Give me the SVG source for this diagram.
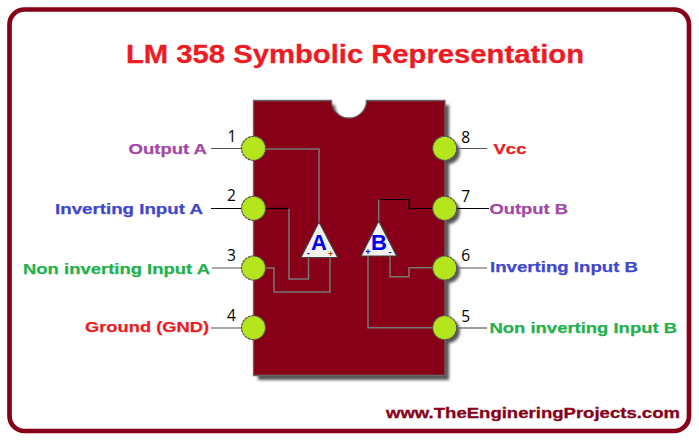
<svg xmlns="http://www.w3.org/2000/svg" width="699" height="441" viewBox="0 0 699 441">
<style>
text{font-family:"Liberation Sans",Arial,sans-serif;font-weight:bold}
.lab{font-size:15px;stroke-width:.25px}
.r{fill:#ed1c24;stroke:#ed1c24}.p{fill:#a349a4;stroke:#a349a4}.b{fill:#3f48cc;stroke:#3f48cc}.g{fill:#22b14c;stroke:#22b14c}
.n{font-weight:normal;font-size:15.500px;fill:#000;font-family:"Open Sans","Liberation Sans",sans-serif}
.w{fill:none;stroke:#777;stroke-width:1.5}
.k{fill:none;stroke:#000;stroke-width:1.2}
.lead{fill:none;stroke:#555;stroke-width:1.2}
.pin{fill:#b5e61d;stroke:#555;stroke-width:1.2;stroke-dasharray:3 .6}
.tri{fill:#f2f2f2;stroke:#444;stroke-width:1.2}
.big{font-size:22px;fill:#0000ee}
.sg{font-size:9px;font-weight:bold}
.shadow{fill:#555}
</style>
<defs>
<filter id="s" x="-20%" y="-20%" width="140%" height="140%"><feGaussianBlur stdDeviation="1.6"/></filter>
</defs>
<rect x="9.500" y="9.500" width="679.500" height="421.500" rx="15" fill="#fff" stroke="#870017" stroke-width="4.700"/>
<text x="126" y="62.500" font-size="25.500" fill="#ed1c24" stroke="#ed1c24" stroke-width=".3" textLength="458" lengthAdjust="spacingAndGlyphs">LM 358 Symbolic Representation</text>
<g id="chip">
<path class="shadow" d="M258 105H335A18 18 0 0 0 371 105H449V380H258Z" filter="url(#s)"/>
<circle class="shadow" cx="448" cy="152" r="12" filter="url(#s)"/>
<circle class="shadow" cx="448" cy="212" r="12" filter="url(#s)"/>
<circle class="shadow" cx="448" cy="271" r="12" filter="url(#s)"/>
<circle class="shadow" cx="448" cy="331" r="12" filter="url(#s)"/>
<path d="M253.500 100.500H331.500A17.500 17.500 0 0 0 366.500 100.500H445V375.500H253.500Z" fill="#870017" stroke="#666" stroke-width="1.300"/>
</g>
<g id="connectors">
<path class="lead" d="M211 148.500H242M211 328H242M212 268H242M455 148.500H487M455 268H487"/>
<path class="k" d="M211 208.500H242M455 208.500H489"/>
<path class="w" d="M455 328H487"/>
<path class="w" d="M265 149H319V222"/>
<path class="k" d="M265 208.500H289"/>
<path class="w" d="M289 208.500V279H308.500V257"/>
<path class="w" d="M265 268H274V292H330V257"/>
<path class="k" d="M379 199.500H409V208.500H433"/>
<path class="w" d="M378.700 199.500V222"/>
<path class="w" d="M390 255V276.700H409V267.700H433"/>
<path class="w" d="M368 255V327.700H433" stroke-width="1.700"/>
</g>
<g id="op-a"><path class="tri" d="M319 222L337.700 257.500H301Z"/><text class="big" x="319" y="250" text-anchor="middle">A</text><text class="sg" x="308.300" y="255.500" text-anchor="middle" fill="#0000ee">-</text><text class="sg" x="330.700" y="256.500" text-anchor="middle" fill="#b5460f">+</text></g>
<g id="op-b"><path class="tri" d="M378.700 221L396.700 256H361Z"/><text class="big" x="379" y="250" text-anchor="middle">B</text><text class="sg" x="368" y="255" text-anchor="middle" fill="#0000ee">+</text><text class="sg" x="390" y="254.500" text-anchor="middle" fill="#0000ee">-</text></g>
<g id="pin1"><circle class="pin" cx="253.500" cy="148.300" r="12"/><text class="n" x="232" y="142.300" text-anchor="middle">1</text></g>
<g id="pin2"><circle class="pin" cx="253.500" cy="208.300" r="12"/><text class="n" x="231.500" y="201" text-anchor="middle">2</text></g>
<g id="pin3"><circle class="pin" cx="253.500" cy="268" r="12"/><text class="n" x="231.500" y="261" text-anchor="middle">3</text></g>
<g id="pin4"><circle class="pin" cx="253.500" cy="327.700" r="12"/><text class="n" x="231.500" y="321" text-anchor="middle">4</text></g>
<g id="pin8"><circle class="pin" cx="444.700" cy="148.300" r="12"/><text class="n" x="465.700" y="143" text-anchor="middle">8</text></g>
<g id="pin7"><circle class="pin" cx="444.700" cy="208.300" r="12"/><text class="n" x="465.700" y="201.500" text-anchor="middle">7</text></g>
<g id="pin6"><circle class="pin" cx="444.700" cy="268" r="12"/><text class="n" x="465.700" y="261" text-anchor="middle">6</text></g>
<g id="pin5"><circle class="pin" cx="444.700" cy="327.700" r="12"/><text class="n" x="465.700" y="322" text-anchor="middle">5</text></g>
<g id="labels">
<text class="lab p" x="128.500" y="153.500" textLength="78.500" lengthAdjust="spacingAndGlyphs">Output A</text>
<text class="lab b" x="55" y="214" textLength="148" lengthAdjust="spacingAndGlyphs">Inverting Input A</text>
<text class="lab g" x="23" y="274" textLength="187" lengthAdjust="spacingAndGlyphs">Non inverting Input A</text>
<text class="lab r" x="85" y="332" textLength="124" lengthAdjust="spacingAndGlyphs">Ground (GND)</text>
<text class="lab r" x="493.500" y="154" textLength="33" lengthAdjust="spacingAndGlyphs">Vcc</text>
<text class="lab p" x="489.500" y="214" textLength="78.500" lengthAdjust="spacingAndGlyphs">Output B</text>
<text class="lab b" x="490" y="272" textLength="148" lengthAdjust="spacingAndGlyphs">Inverting Input B</text>
<text class="lab g" x="489.500" y="332.500" textLength="187.500" lengthAdjust="spacingAndGlyphs">Non inverting Input B</text>
</g>
<text x="386" y="418" font-size="15" fill="#870017" stroke="#870017" stroke-width=".3" textLength="294" lengthAdjust="spacingAndGlyphs">www.TheEngineringProjects.com</text>
</svg>
